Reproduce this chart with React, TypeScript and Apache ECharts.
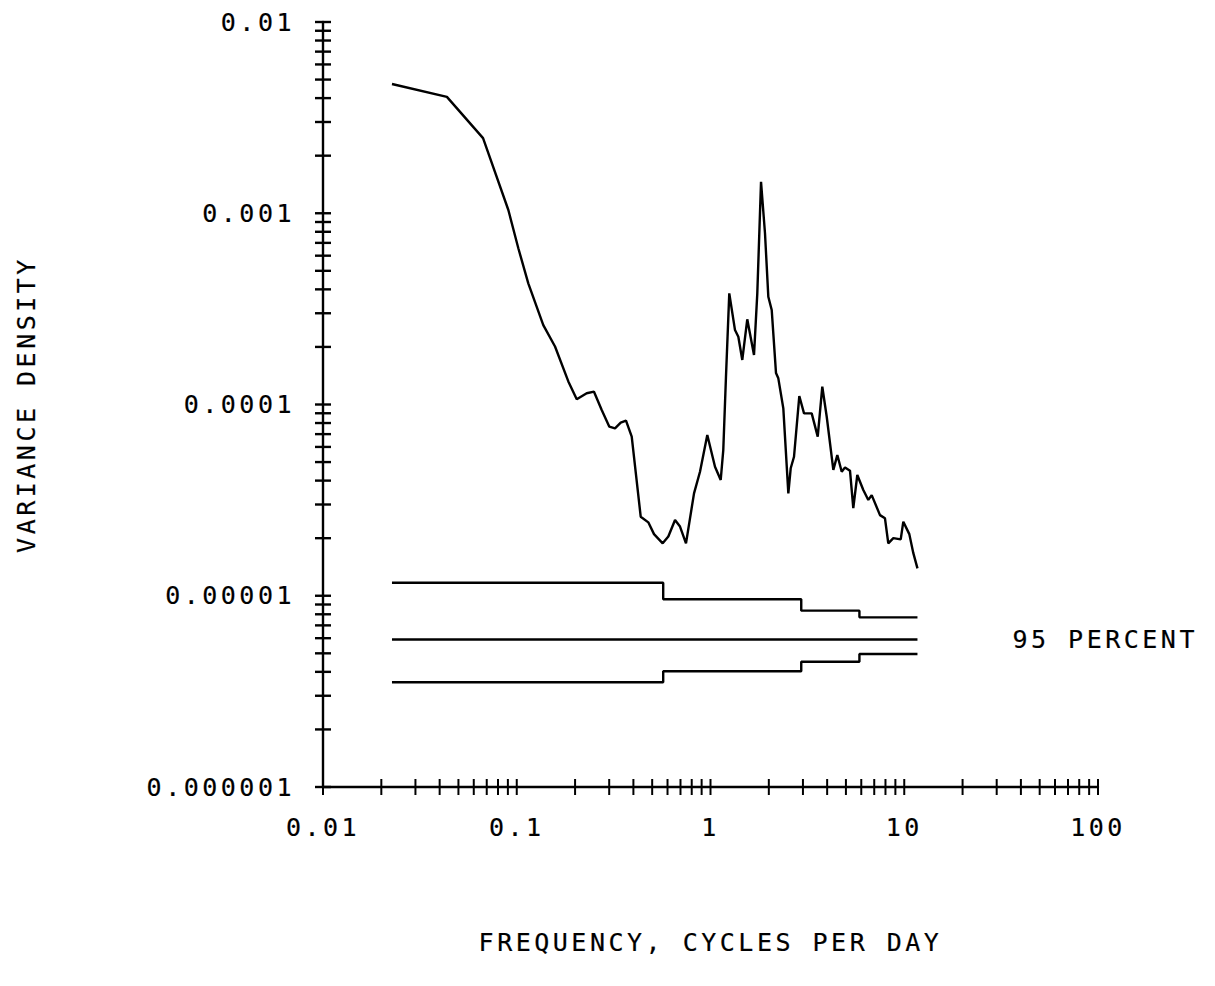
import React, { useEffect, useRef } from "react";
import * as echarts from "echarts";

// Spectrum: frequency (cycles per day) and variance density
const FREQ = [
  0.0227, 0.0436, 0.067, 0.0905, 0.1019, 0.1147, 0.1371, 0.1576, 0.1846, 0.204,
  0.2296, 0.2504, 0.2745, 0.3005, 0.3215, 0.344, 0.3664, 0.3921, 0.4363, 0.4775,
  0.511, 0.5666, 0.6058, 0.6561, 0.6961, 0.7473, 0.8222, 0.8827, 0.9627, 1.055,
  1.129, 1.164, 1.202, 1.25, 1.338, 1.392, 1.459, 1.548, 1.677, 1.744,
  1.823, 1.911, 1.988, 2.07, 2.178, 2.239, 2.376, 2.522, 2.594, 2.698,
  2.873, 3.039, 3.329, 3.576, 3.776, 3.98, 4.305, 4.514, 4.756, 4.946,
  5.248, 5.458, 5.724, 6.148, 6.524, 6.792, 7.495, 7.953, 8.272, 8.783,
  9.588, 9.89, 10.62, 11.14, 11.7,
];
const DENSITY = [
  4.74e-3, 4.06e-3, 2.47e-3, 1.04e-3, 6.56e-4, 4.3e-4, 2.6e-4, 2.01e-4, 1.32e-4, 1.065e-4,
  1.145e-4, 1.167e-4, 9.36e-5, 7.66e-5, 7.51e-5, 8.04e-5, 8.23e-5, 6.79e-5, 2.59e-5, 2.42e-5,
  2.1e-5, 1.88e-5, 2.04e-5, 2.49e-5, 2.3e-5, 1.88e-5, 3.43e-5, 4.45e-5, 6.93e-5, 4.73e-5,
  4.03e-5, 5.78e-5, 1.4e-4, 3.81e-4, 2.45e-4, 2.26e-4, 1.71e-4, 2.79e-4, 1.815e-4, 3.81e-4,
  1.46e-3, 7.86e-4, 3.66e-4, 3.12e-4, 1.46e-4, 1.37e-4, 9.55e-5, 3.43e-5, 4.64e-5, 5.33e-5,
  1.107e-4, 8.99e-5, 8.99e-5, 6.79e-5, 1.239e-4, 8.63e-5, 4.55e-5, 5.44e-5, 4.45e-5, 4.69e-5,
  4.51e-5, 2.87e-5, 4.28e-5, 3.57e-5, 3.17e-5, 3.36e-5, 2.64e-5, 2.54e-5, 1.88e-5, 2.0e-5,
  1.97e-5, 2.44e-5, 2.1e-5, 1.67e-5, 1.39e-5,
];

// 95 percent confidence band: band edges (cpd) and limits per band
const BAND_EDGES = [0.0227, 0.57, 2.94, 5.87, 11.7];
const UPPER_LIMIT = [1.17e-5, 9.58e-6, 8.36e-6, 7.71e-6];
const LOWER_LIMIT = [3.53e-6, 4.03e-6, 4.52e-6, 4.96e-6];
const REFERENCE_LEVEL = [5.9e-6, 5.9e-6];
const BAND_LABEL = "95 PERCENT";

// Axes
const X_MIN = 0.01;
const X_MAX = 100;
const Y_MIN = 0.000001;
const Y_MAX = 0.01;
const X_TICK_LABELS = ["0.01", "0.1", "1", "10", "100"];
const Y_TICK_LABELS = ["0.000001", "0.00001", "0.0001", "0.001", "0.01"];
const X_DECADES = [0.01, 0.1, 1, 10];
const Y_DECADES = [0.000001, 0.00001, 0.0001, 0.001];
const MULTIPLIERS = [1, 2, 3, 4, 5, 6, 7, 8, 9];
const X_TITLE = "FREQUENCY, CYCLES PER DAY";
const Y_TITLE = "VARIANCE DENSITY";

const FONT = "DejaVu Sans Mono";

export default function App() {
  const ref = useRef<HTMLDivElement>(null);

  useEffect(() => {
    if (!ref.current) return;
    const chart = echarts.init(ref.current, null, { renderer: "svg" });

    const xTicks: number[][] = [];
    X_DECADES.forEach((d) => MULTIPLIERS.forEach((m) => xTicks.push([d * m, Y_MIN])));
    xTicks.push([X_MAX, Y_MIN]);
    const yTicks: number[][] = [];
    Y_DECADES.forEach((d) => MULTIPLIERS.forEach((m) => yTicks.push([X_MIN, d * m])));
    yTicks.push([X_MIN, Y_MAX]);

    const stepData = (vals: number[]) =>
      BAND_EDGES.map((e, i) => [e, vals[Math.min(i, vals.length - 1)]]);

    const lineStyle = { color: "#000", width: 2.4 };
    const textStyle = {
      fontFamily: FONT,
      fontSize: 25,
      color: "#000",
      textBorderColor: "#000",
      textBorderWidth: 0.2,
    };

    chart.setOption({
      animation: false,
      backgroundColor: "#fff",
      grid: { left: 323, top: 22, right: 117, bottom: 199, containLabel: false },
      xAxis: {
        type: "log",
        logBase: 10,
        min: X_MIN,
        max: X_MAX,
        name: X_TITLE,
        nameLocation: "middle",
        nameGap: 143,
        nameTextStyle: textStyle,
        axisLine: { show: true, onZero: false, lineStyle },
        axisTick: { show: false },
        splitLine: { show: false },
        axisLabel: {
          ...textStyle,
          margin: 28,
          formatter: (v: number) => X_TICK_LABELS[Math.round(Math.log10(v / X_MIN))] ?? "",
        },
      },
      yAxis: {
        type: "log",
        logBase: 10,
        min: Y_MIN,
        max: Y_MAX,
        name: Y_TITLE,
        nameLocation: "middle",
        nameRotate: 90,
        nameGap: 284,
        nameTextStyle: textStyle,
        axisLine: { show: true, onZero: false, lineStyle },
        axisTick: { show: false },
        splitLine: { show: false },
        axisLabel: {
          ...textStyle,
          margin: 28,
          formatter: (v: number) => Y_TICK_LABELS[Math.round(Math.log10(v / Y_MIN))] ?? "",
        },
      },
      series: [
        {
          type: "line",
          data: FREQ.map((f, i) => [f, DENSITY[i]]),
          showSymbol: false,
          lineStyle,
        },
        {
          type: "line",
          step: "end",
          data: stepData(UPPER_LIMIT),
          showSymbol: false,
          lineStyle,
        },
        {
          type: "line",
          data: [
            [BAND_EDGES[0], REFERENCE_LEVEL[0]],
            [BAND_EDGES[BAND_EDGES.length - 1], REFERENCE_LEVEL[1]],
          ],
          showSymbol: false,
          lineStyle,
          endLabel: {
            show: true,
            formatter: BAND_LABEL,
            distance: 95,
            ...textStyle,
          },
        },
        {
          type: "line",
          step: "end",
          data: stepData(LOWER_LIMIT),
          showSymbol: false,
          lineStyle,
        },
        {
          type: "custom",
          clip: false,
          data: xTicks,
          encode: { x: 0, y: 1 },
          renderItem: (_p: any, api: any) => {
            const p = api.coord([api.value(0), api.value(1)]);
            return {
              type: "line",
              shape: { x1: p[0], y1: p[1] - 8, x2: p[0], y2: p[1] + 8 },
              style: { stroke: "#000", lineWidth: 2 },
            };
          },
        },
        {
          type: "custom",
          clip: false,
          data: yTicks,
          encode: { x: 0, y: 1 },
          renderItem: (_p: any, api: any) => {
            const p = api.coord([api.value(0), api.value(1)]);
            return {
              type: "line",
              shape: { x1: p[0] - 8, y1: p[1], x2: p[0] + 8, y2: p[1] },
              style: { stroke: "#000", lineWidth: 2.4 },
            };
          },
        },
      ],
    });

    return () => chart.dispose();
  }, []);

  return (
    <div
      ref={ref}
      style={{
        position: "absolute",
        left: 0,
        top: 0,
        width: 1215,
        height: 986,
        letterSpacing: "3.5px",
      }}
    />
  );
}
